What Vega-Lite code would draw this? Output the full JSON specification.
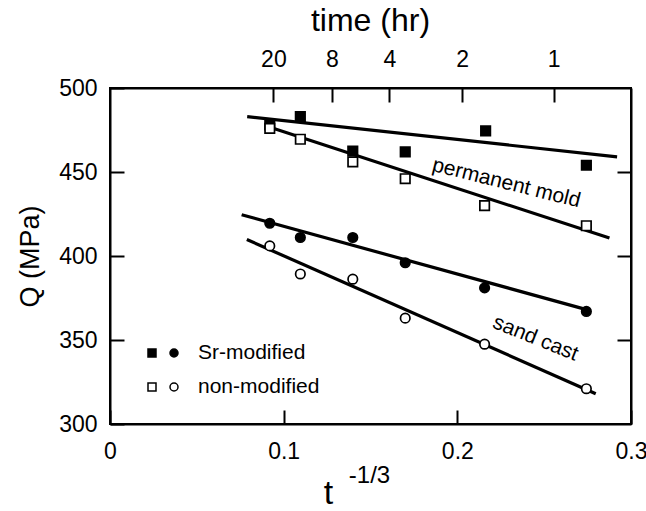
{
  "$schema": "https://vega.github.io/schema/vega-lite/v6.json",
  "width": 521,
  "height": 336,
  "autosize": {"type": "none"},
  "padding": {"left": 110, "top": 88, "right": 15, "bottom": 87},
  "background": "white",
  "config": {
    "view": {"stroke": "black", "strokeWidth": 2},
    "axis": {
      "grid": false,
      "zindex": 2,
      "domainColor": "black",
      "domainWidth": 2,
      "ticks": true,
      "tickColor": "black",
      "tickOpacity": 1,
      "tickWidth": 2,
      "tickSize": -14,
      "labelColor": "black",
      "labelFont": "Liberation Sans",
      "labelFontSize": 23,
      "labelPadding": 28,
      "titleColor": "black",
      "titleFont": "Liberation Sans",
      "titleFontWeight": "normal"
    }
  },
  "datasets": {
    "lines": [
      {"series": "pm-Sr", "x": 0.079, "y": 483.0},
      {"series": "pm-Sr", "x": 0.292, "y": 459.0},
      {"series": "pm-non", "x": 0.0895, "y": 477.5},
      {"series": "pm-non", "x": 0.2876, "y": 410.7},
      {"series": "sc-Sr", "x": 0.0758, "y": 424.6},
      {"series": "sc-Sr", "x": 0.2765, "y": 367.5},
      {"series": "sc-non", "x": 0.0788, "y": 409.8},
      {"series": "sc-non", "x": 0.2797, "y": 318.0}
    ],
    "points": [
      {"mold": "permanent mold", "treatment": "Sr-modified", "x": 0.092, "y": 478},
      {"mold": "permanent mold", "treatment": "Sr-modified", "x": 0.1096, "y": 483},
      {"mold": "permanent mold", "treatment": "Sr-modified", "x": 0.1398, "y": 462.5},
      {"mold": "permanent mold", "treatment": "Sr-modified", "x": 0.170, "y": 462},
      {"mold": "permanent mold", "treatment": "Sr-modified", "x": 0.2163, "y": 474.5},
      {"mold": "permanent mold", "treatment": "Sr-modified", "x": 0.2743, "y": 454},
      {"mold": "permanent mold", "treatment": "non-modified", "x": 0.092, "y": 476},
      {"mold": "permanent mold", "treatment": "non-modified", "x": 0.1096, "y": 469.5},
      {"mold": "permanent mold", "treatment": "non-modified", "x": 0.1398, "y": 456},
      {"mold": "permanent mold", "treatment": "non-modified", "x": 0.170, "y": 446},
      {"mold": "permanent mold", "treatment": "non-modified", "x": 0.2157, "y": 430},
      {"mold": "permanent mold", "treatment": "non-modified", "x": 0.2743, "y": 418},
      {"mold": "sand cast", "treatment": "Sr-modified", "x": 0.092, "y": 419.5},
      {"mold": "sand cast", "treatment": "Sr-modified", "x": 0.1096, "y": 411},
      {"mold": "sand cast", "treatment": "Sr-modified", "x": 0.1398, "y": 411},
      {"mold": "sand cast", "treatment": "Sr-modified", "x": 0.170, "y": 396},
      {"mold": "sand cast", "treatment": "Sr-modified", "x": 0.2157, "y": 381},
      {"mold": "sand cast", "treatment": "Sr-modified", "x": 0.2743, "y": 367},
      {"mold": "sand cast", "treatment": "non-modified", "x": 0.092, "y": 406},
      {"mold": "sand cast", "treatment": "non-modified", "x": 0.1096, "y": 389.3},
      {"mold": "sand cast", "treatment": "non-modified", "x": 0.1398, "y": 386.2},
      {"mold": "sand cast", "treatment": "non-modified", "x": 0.170, "y": 363},
      {"mold": "sand cast", "treatment": "non-modified", "x": 0.2157, "y": 347.5},
      {"mold": "sand cast", "treatment": "non-modified", "x": 0.2743, "y": 321}
    ]
  },
  "resolve": {"axis": {"x": "independent", "y": "independent"}},
  "layer": [
    {
      "data": {"name": "lines"},
      "mark": {"type": "line", "stroke": "black", "strokeWidth": 3.2},
      "encoding": {
        "x": {
          "field": "x", "type": "quantitative",
          "scale": {"domain": [0, 0.3], "nice": false, "zero": false},
          "axis": {
            "orient": "bottom", "values": [0, 0.1, 0.2, 0.3], "format": "~g",
            "labelFlush": false, "labelBound": false, "labelPadding": 30,
            "title": "t", "titleFontSize": 34, "titleX": 218, "titleY": 79,
            "titleBaseline": "alphabetic", "titleAlign": "center"
          }
        },
        "y": {
          "field": "y", "type": "quantitative",
          "scale": {"domain": [300, 500], "nice": false, "zero": false},
          "axis": {
            "orient": "left", "values": [300, 350, 400, 450, 500],
            "labelFlush": false, "labelBound": false, "labelPadding": 27,
            "title": "Q (MPa)", "titleFontSize": 27, "titleX": -80, "titleY": 168,
            "titleAngle": -90, "titleBaseline": "middle", "titleAlign": "center"
          }
        },
        "detail": {"field": "series"}
      }
    },
    {
      "data": {"name": "points"},
      "mark": {"type": "point", "filled": true, "size": 90, "stroke": "black", "strokeWidth": 1.7, "opacity": 1},
      "encoding": {
        "x": {
          "field": "x", "type": "quantitative",
          "scale": {"domain": [0, 0.3], "nice": false, "zero": false},
          "axis": {
            "orient": "top",
            "values": [0.0941, 0.12774, 0.16094, 0.20274, 0.25544],
            "labelExpr": "datum.value < 0.1 ? '20' : datum.value < 0.14 ? '8' : datum.value < 0.18 ? '4' : datum.value < 0.23 ? '2' : '1'",
            "labelPadding": 31,
            "title": "time (hr)", "titleFontSize": 32, "titleX": 260, "titleY": -58,
            "titleBaseline": "alphabetic", "titleAlign": "center"
          }
        },
        "y": {
          "field": "y", "type": "quantitative",
          "scale": {"domain": [300, 500], "nice": false, "zero": false},
          "axis": {"orient": "right", "values": [350, 400, 450], "labels": false, "title": null}
        },
        "shape": {
          "field": "mold", "type": "nominal",
          "scale": {"domain": ["permanent mold", "sand cast"], "range": ["square", "circle"]},
          "legend": null
        },
        "fill": {
          "field": "treatment", "type": "nominal",
          "scale": {"domain": ["Sr-modified", "non-modified"], "range": ["black", "white"]},
          "legend": {
            "orient": "none", "legendX": 42, "legendY": 254, "title": null,
            "symbolType": "M-1.5,-0.4H-0.7V0.4H-1.5Z M0.7,0A0.4,0.4 0 1,1 1.5,0A0.4,0.4 0 1,1 0.7,0Z",
            "symbolSize": 400, "symbolStrokeColor": "black", "symbolStrokeWidth": 1.5,
            "symbolOpacity": 1,
            "labelFont": "Liberation Sans", "labelFontSize": 21, "labelColor": "black",
            "labelOffset": 24, "rowPadding": 13, "padding": 0
          }
        }
      }
    },
    {
      "data": {"values": [{"x": 0.2282, "y": 443.3, "label": "permanent mold"}]},
      "mark": {"type": "text", "angle": 14, "font": "Liberation Sans", "fontSize": 21, "color": "black", "align": "center", "baseline": "middle"},
      "encoding": {
        "x": {
          "field": "x", "type": "quantitative",
          "scale": {"domain": [0, 0.3], "nice": false, "zero": false},
          "axis": {
            "orient": "bottom", "domain": false, "ticks": false, "labels": false,
            "title": "-1/3", "titleFontSize": 24, "titleX": 259, "titleY": 58,
            "titleBaseline": "alphabetic", "titleAlign": "center"
          }
        },
        "y": {"field": "y", "type": "quantitative", "scale": {"domain": [300, 500], "nice": false, "zero": false}, "axis": null},
        "text": {"field": "label"}
      }
    },
    {
      "data": {"values": [{"x": 0.245, "y": 350.9, "label": "sand cast"}]},
      "mark": {"type": "text", "angle": 22, "font": "Liberation Sans", "fontSize": 21, "color": "black", "align": "center", "baseline": "middle"},
      "encoding": {
        "x": {"field": "x", "type": "quantitative", "scale": {"domain": [0, 0.3], "nice": false, "zero": false}, "axis": null},
        "y": {"field": "y", "type": "quantitative", "scale": {"domain": [300, 500], "nice": false, "zero": false}, "axis": null},
        "text": {"field": "label"}
      }
    }
  ]
}
